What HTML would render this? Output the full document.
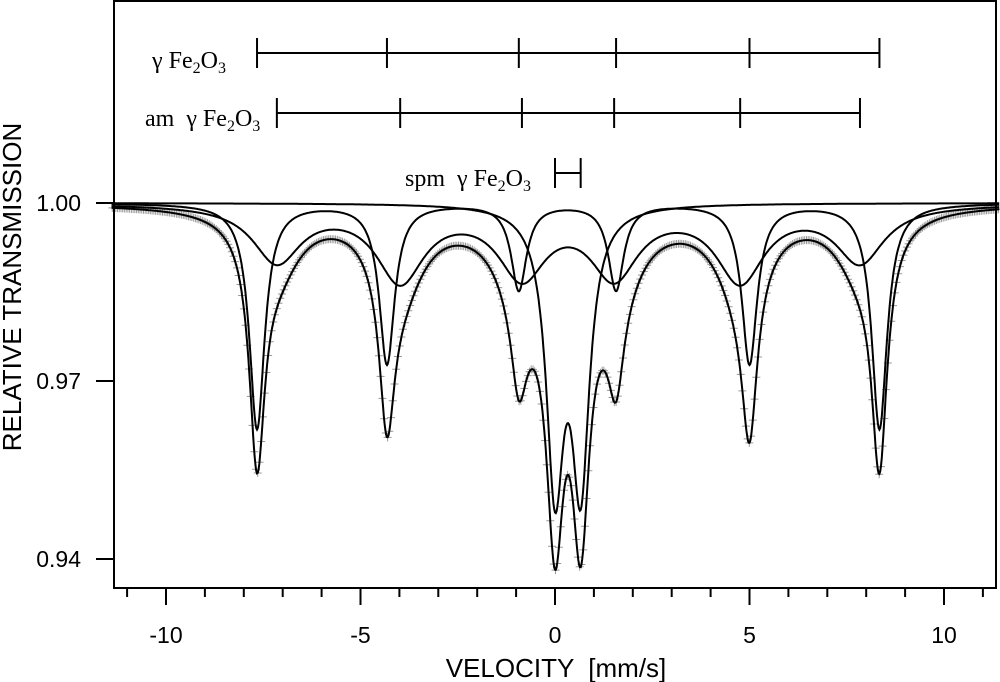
<!DOCTYPE html>
<html><head><meta charset="utf-8"><style>
body{margin:0;background:#fff}
svg{display:block}
text{font-family:"Liberation Sans",Arial,sans-serif}
.ser{font-family:"Liberation Serif","Times New Roman",serif;font-size:24px}
</style></head><body>
<svg id="c" width="1000" height="682" viewBox="0 0 1000 682">
<g id="marks"></g>
<rect x="114" y="1" width="882" height="587" fill="none" stroke="#000" stroke-width="2"/>
<g id="axes"></g>
<text x="12" y="287" transform="rotate(-90 12 287)" text-anchor="middle" dominant-baseline="central" font-size="26">RELATIVE TRANSMISSION</text>
<text x="556" y="677" text-anchor="middle" font-size="26" xml:space="preserve">VELOCITY  [mm/s]</text>
<text class="ser" x="152" y="68">γ Fe<tspan font-size="16" dy="5">2</tspan><tspan dy="-5">O</tspan><tspan font-size="16" dy="5">3</tspan></text>
<text class="ser" x="145" y="126" xml:space="preserve">am  γ Fe<tspan font-size="16" dy="5">2</tspan><tspan dy="-5">O</tspan><tspan font-size="16" dy="5">3</tspan></text>
<text class="ser" x="405" y="186" xml:space="preserve">spm  γ Fe<tspan font-size="16" dy="5">2</tspan><tspan dy="-5">O</tspan><tspan font-size="16" dy="5">3</tspan></text>
</svg>
<script>
const sextetPos=[-7.66,-4.32,-0.93,1.57,5.0,8.34];
const sextetDepth=[0.038,0.027,0.0145,0.0145,0.027,0.038];
const sextetWidth=0.48;
const amPos=[-7.15,-3.98,-0.85,1.52,4.76,7.84];
const amDepth=[0.0095,0.0125,0.0115,0.0115,0.0125,0.0095];
const amWidth=1.5;
const spmPos=[0.0,0.66];
const spmDepth=[0.0455,0.045];
const spmWidth=0.55;
const xTicks=[-10,-5,0,5,10];
const yTicks=[1.00,0.97,0.94];
const yTickLabels=["1.00","0.97","0.94"];

const NS="http://www.w3.org/2000/svg";
const xs=v=>555+v*38.9;
const ys=t=>203+(1-t)*5933;
const marks=document.getElementById('marks'), axes=document.getElementById('axes');
function mk(tag,attrs,parent){const e=document.createElementNS(NS,tag);for(const k in attrs)e.setAttribute(k,attrs[k]);parent.appendChild(e);return e;}
function lor(v,pos,dep,w){let s=0;const h=w/2;for(let i=0;i<pos.length;i++){const d=(v-pos[i])/h;s+=dep[i]/(1+d*d);}return s;}
const comp=[v=>lor(v,sextetPos,sextetDepth,sextetWidth),v=>lor(v,amPos,amDepth,amWidth),v=>lor(v,spmPos,spmDepth,spmWidth)];
const total=v=>comp[0](v)+comp[1](v)+comp[2](v);
const vmin=-11.4,vmax=11.42;
function path(f){let d='';for(let v=vmin;v<=vmax;v+=0.02){d+=(d?'L':'M')+xs(v).toFixed(1)+','+ys(1-f(v)).toFixed(1);}return d;}
const pts=mk('g',{},marks);


let pd='';
for(let v=vmin+0.02;v<=vmax;v+=0.0445){const x=xs(v),y=ys(1-total(v));pd+=`M${(x-4).toFixed(1)},${y.toFixed(1)}h8M${x.toFixed(1)},${(y-4).toFixed(1)}v8`;}
mk('path',{d:pd,stroke:'#999',"stroke-width":1,fill:'none'},pts);
const names=['sextet-component','amorphous-sextet-component','spm-doublet-component'];
comp.forEach((f,i)=>{const p=mk('path',{d:path(f),stroke:'#000',"stroke-width":2,fill:'none'},marks);

});
const tp=mk('path',{d:path(total),stroke:'#000',"stroke-width":2,fill:'none'},marks);


for(let v=-11;v<=11;v++){const major=v%5===0;const t=mk('line',{x1:xs(v),x2:xs(v),y1:588,y2:major?605:597,stroke:'#000',"stroke-width":2},axes);

}
xTicks.forEach(v=>{const t=mk('text',{x:xs(v),y:643,"text-anchor":"middle","font-size":23},axes);t.textContent=String(v);

});
yTicks.forEach((t,i)=>{const l=mk('line',{x1:96,x2:114,y1:ys(t),y2:ys(t),stroke:'#000',"stroke-width":2},axes);


const tx=mk('text',{x:81,y:ys(t)+8,"text-anchor":"end","font-size":23},axes);tx.textContent=yTickLabels[i];

});
function bar(pos,y,name){const g=mk('g',{},marks);


mk('line',{x1:xs(pos[0]),x2:xs(pos[pos.length-1]),y1:y,y2:y,stroke:'#000',"stroke-width":2},g);
pos.forEach(p=>mk('line',{x1:xs(p),x2:xs(p),y1:y-15,y2:y+15,stroke:'#000',"stroke-width":2},g));}
bar(sextetPos,53,'sextet-line-markers');
bar(amPos,113,'am-sextet-line-markers');
bar(spmPos,173,'spm-doublet-line-markers');
</script>
</body></html>
